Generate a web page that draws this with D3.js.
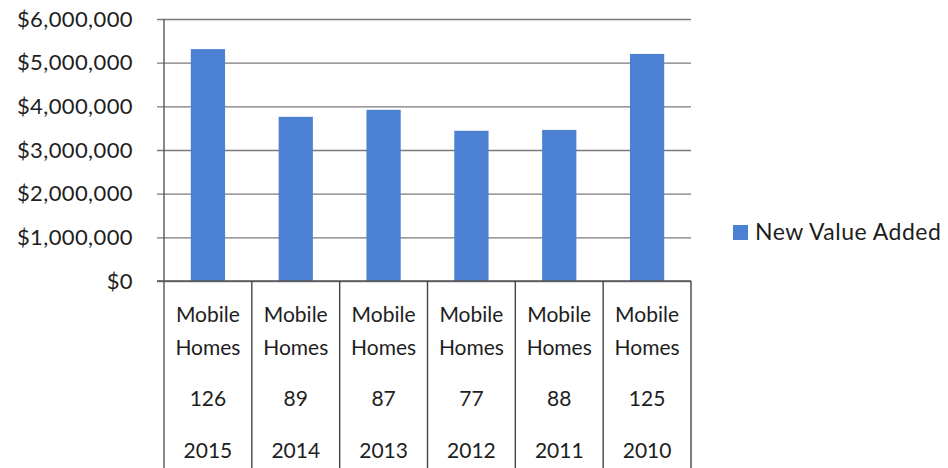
<!DOCTYPE html>
<html lang="en">
<head>
    <script src="https://cdnjs.cloudflare.com/ajax/libs/d3/7.8.5/d3.min.js"></script>
    <style>
        body { margin: 0; background: #fff; }
        text { font-family: Lato, "Open Sans", sans-serif; fill: #1e1e1e; }
    </style>
</head>
<body>
    <script>
        var w = 948;
        var h = 468;

        // data
        var years = ["2015", "2014", "2013", "2012", "2011", "2010"];
        var counts = ["126", "89", "87", "77", "88", "125"];
        var kinds = ["Mobile Homes", "Mobile Homes", "Mobile Homes", "Mobile Homes", "Mobile Homes", "Mobile Homes"];
        var values = [5310000, 3760000, 3920000, 3440000, 3460000, 5200000];
        var yTicks = [0, 1000000, 2000000, 3000000, 4000000, 5000000, 6000000];
        var seriesName = "New Value Added";

        var plotL = 164, plotR = 691, plotT = 19, plotB = 281;

        var svg = d3.select("body").append("svg")
            .attr("width", w)
            .attr("height", h);

        var x = d3.scaleBand()
            .domain(years)
            .range([plotL, plotR])
            .paddingInner(0.61)
            .paddingOuter(0.305);

        var y = d3.scaleLinear()
            .domain([0, 6000000])
            .range([plotB, plotT]);

        var fmt = d3.format("$,");

        // gridlines + tick labels
        var yAxis = d3.axisLeft(y)
            .tickValues(yTicks)
            .tickSize(-(plotR - plotL))
            .tickSizeOuter(0)
            .tickPadding(30)
            .tickFormat(fmt);

        var gy = svg.append("g")
            .attr("transform", "translate(" + plotL + ",0)")
            .call(yAxis);
        gy.select(".domain").remove();
        gy.selectAll(".tick line")
            .attr("x1", -7)
            .attr("stroke", "#7a7a7a")
            .attr("stroke-width", 1.4);
        gy.selectAll(".tick text")
            .attr("font-size", "22px")
            .attr("font-family", "Lato, 'Open Sans', sans-serif")
            .attr("letter-spacing", "0.4px")
            .attr("fill", "#1e1e1e")
            .attr("x", -31);

        // bars
        svg.selectAll("rect.bar")
            .data(values)
            .enter()
            .append("rect")
            .attr("class", "bar")
            .attr("x", (d, i) => x(years[i]))
            .attr("y", d => y(d))
            .attr("width", x.bandwidth())
            .attr("height", d => y(0) - y(d))
            .attr("fill", "#4b80d3");

        // left axis line
        svg.append("line")
            .attr("x1", plotL).attr("x2", plotL)
            .attr("y1", plotT).attr("y2", h)
            .attr("stroke", "#555")
            .attr("stroke-width", 1.4);

        // baseline
        svg.append("line")
            .attr("x1", plotL - 7).attr("x2", plotR)
            .attr("y1", plotB).attr("y2", plotB)
            .attr("stroke", "#555")
            .attr("stroke-width", 1.4);

        // category table separators
        var step = x.step();
        svg.selectAll("line.sep")
            .data(years)
            .enter()
            .append("line")
            .attr("class", "sep")
            .attr("x1", (d, i) => plotL + step * (i + 1))
            .attr("x2", (d, i) => plotL + step * (i + 1))
            .attr("y1", plotB)
            .attr("y2", h)
            .attr("stroke", "#444")
            .attr("stroke-width", 1.4);

        // multi-level category labels
        var cx = d => x(d) + x.bandwidth() / 2;
        var rows = [
            { get: i => kinds[i].split(" ")[0], y: 315 },
            { get: i => kinds[i].split(" ")[1], y: 348 },
            { get: i => counts[i], y: 399 },
            { get: i => years[i], y: 451 }
        ];
        rows.forEach(function (r) {
            svg.selectAll(null)
                .data(years)
                .enter()
                .append("text")
                .attr("x", cx)
                .attr("y", r.y)
                .attr("dy", "0.35em")
                .attr("text-anchor", "middle")
                .attr("font-size", "21px")
                .text((d, i) => r.get(i));
        });

        // legend
        svg.append("rect")
            .attr("x", 733).attr("y", 225)
            .attr("width", 15).attr("height", 15)
            .attr("fill", "#4b80d3");
        svg.append("text")
            .attr("x", 755).attr("y", 232)
            .attr("dy", "0.35em")
            .attr("font-size", "23px")
            .attr("letter-spacing", "0.5px")
            .text(seriesName);
    </script>
</body>
</html>
